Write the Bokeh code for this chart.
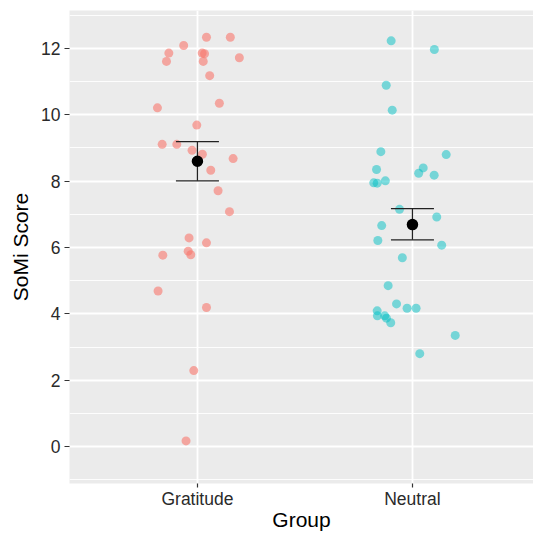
from bokeh.plotting import figure
from bokeh.models import FixedTicker, ColumnDataSource
from bokeh.embed import file_html
from bokeh.resources import INLINE

# ---- data ----
groups = ["Gratitude", "Neutral"]
group_pos = [1, 2]

grat_score = [12.34, 12.34, 12.09, 11.86, 11.86, 11.84, 11.61, 11.61, 11.72, 11.18,
              10.21, 10.35, 9.69, 9.11, 9.11, 8.93, 8.81, 8.68, 8.33, 7.71,
              7.08, 6.29, 6.14, 5.77, 5.89, 5.78, 4.69, 4.19, 2.29, 0.17]
grat_jitter = [0.042, 0.153, -0.064, -0.133, 0.022, 0.033, -0.144, 0.027, 0.195, 0.057,
               -0.186, 0.102, -0.003, -0.164, -0.096, -0.025, 0.023, 0.166, 0.062, 0.096,
               0.149, -0.039, 0.042, -0.161, -0.043, -0.031, -0.183, 0.042, -0.017, -0.053]

neut_score = [12.23, 11.97, 10.89, 10.14, 8.89, 8.80, 8.35, 8.40, 8.24, 8.18,
              7.95, 7.94, 8.01, 7.15, 6.92, 6.66, 6.21, 6.07, 5.69, 4.85,
              4.30, 4.17, 4.17, 4.09, 3.94, 3.94, 3.87, 3.73, 3.35, 2.80]
neut_jitter = [-0.099, 0.102, -0.122, -0.094, -0.147, 0.157, -0.167, 0.050, 0.029, 0.101,
               -0.180, -0.164, -0.126, -0.060, 0.113, -0.143, -0.161, 0.136, -0.047, -0.113,
               -0.074, -0.025, 0.017, -0.164, -0.163, -0.129, -0.121, -0.101, 0.199, 0.034]

group_mean = [8.60, 6.69]
group_low = [8.01, 6.23]
group_high = [9.19, 7.17]

y_ticks = [0, 2, 4, 6, 8, 10, 12]
y_minor = [-1, 1, 3, 5, 7, 9, 11, 13]

FONT = "Liberation Sans"
cap_half = 0.1

p = figure(width=533, height=534, output_backend="svg", toolbar_location=None,
           x_range=(0.405, 2.563), y_range=(-1.115, 13.145))
p.min_border_left = 69
p.min_border_right = 0
p.min_border_top = 10
p.min_border_bottom = 51
p.outline_line_color = None
p.background_fill_color = "#EBEBEB"
p.border_fill_color = "white"

# grids
p.xgrid.ticker = FixedTicker(ticks=group_pos)
p.xgrid.grid_line_color = "white"
p.xgrid.grid_line_width = 1.8
p.ygrid.ticker = FixedTicker(ticks=y_ticks, minor_ticks=y_minor)
p.ygrid.grid_line_color = "white"
p.ygrid.grid_line_width = 1.8
p.ygrid.minor_grid_line_color = "white"
p.ygrid.minor_grid_line_width = 0.9

# axes
p.xaxis.ticker = FixedTicker(ticks=group_pos)
p.xaxis.major_label_overrides = {1: groups[0], 2: groups[1]}
p.yaxis.ticker = FixedTicker(ticks=y_ticks, minor_ticks=y_minor)
for ax in (p.xaxis[0], p.yaxis[0]):
    ax.axis_line_color = None
    ax.major_tick_line_color = "#333333"
    ax.major_tick_line_width = 1.2
    ax.major_tick_in = 0
    ax.minor_tick_line_color = None
    ax.major_label_text_font = FONT
    ax.major_label_text_font_size = "17.5px"
    ax.major_label_text_color = "#2a2a2a"
    ax.axis_label_text_font = FONT
    ax.axis_label_text_font_size = "21px"
    ax.axis_label_text_font_style = "normal"
    ax.axis_label_text_color = "black"

p.xaxis.axis_label = "Group"
p.yaxis.axis_label = "SoMi Score"
p.xaxis.major_tick_out = 4
p.xaxis.major_label_standoff = 1
p.xaxis.axis_label_standoff = -4
p.yaxis.major_tick_out = 5
p.yaxis.major_label_standoff = 4
p.yaxis.axis_label_standoff = 6

# points
gx = [group_pos[0] + j for j in grat_jitter]
nx = [group_pos[1] + j for j in neut_jitter]
p.scatter(gx, grat_score, size=9, fill_color="#F8766D", fill_alpha=0.6, line_color=None)
p.scatter(nx, neut_score, size=9, fill_color="#00BFC4", fill_alpha=0.5, line_color=None)

# error bars
src = ColumnDataSource(dict(
    x=group_pos, mean=group_mean, low=group_low, high=group_high,
    xl=[x - cap_half for x in group_pos], xr=[x + cap_half for x in group_pos]))
p.segment(x0="x", y0="low", x1="x", y1="high", source=src, line_color="#222222", line_width=1.3)
p.segment(x0="xl", y0="low", x1="xr", y1="low", source=src, line_color="#222222", line_width=1.3)
p.segment(x0="xl", y0="high", x1="xr", y1="high", source=src, line_color="#222222", line_width=1.3)
p.scatter("x", "mean", source=src, size=11.5, fill_color="black", line_color=None)

open("out.html", "w").write(file_html(p, INLINE))
